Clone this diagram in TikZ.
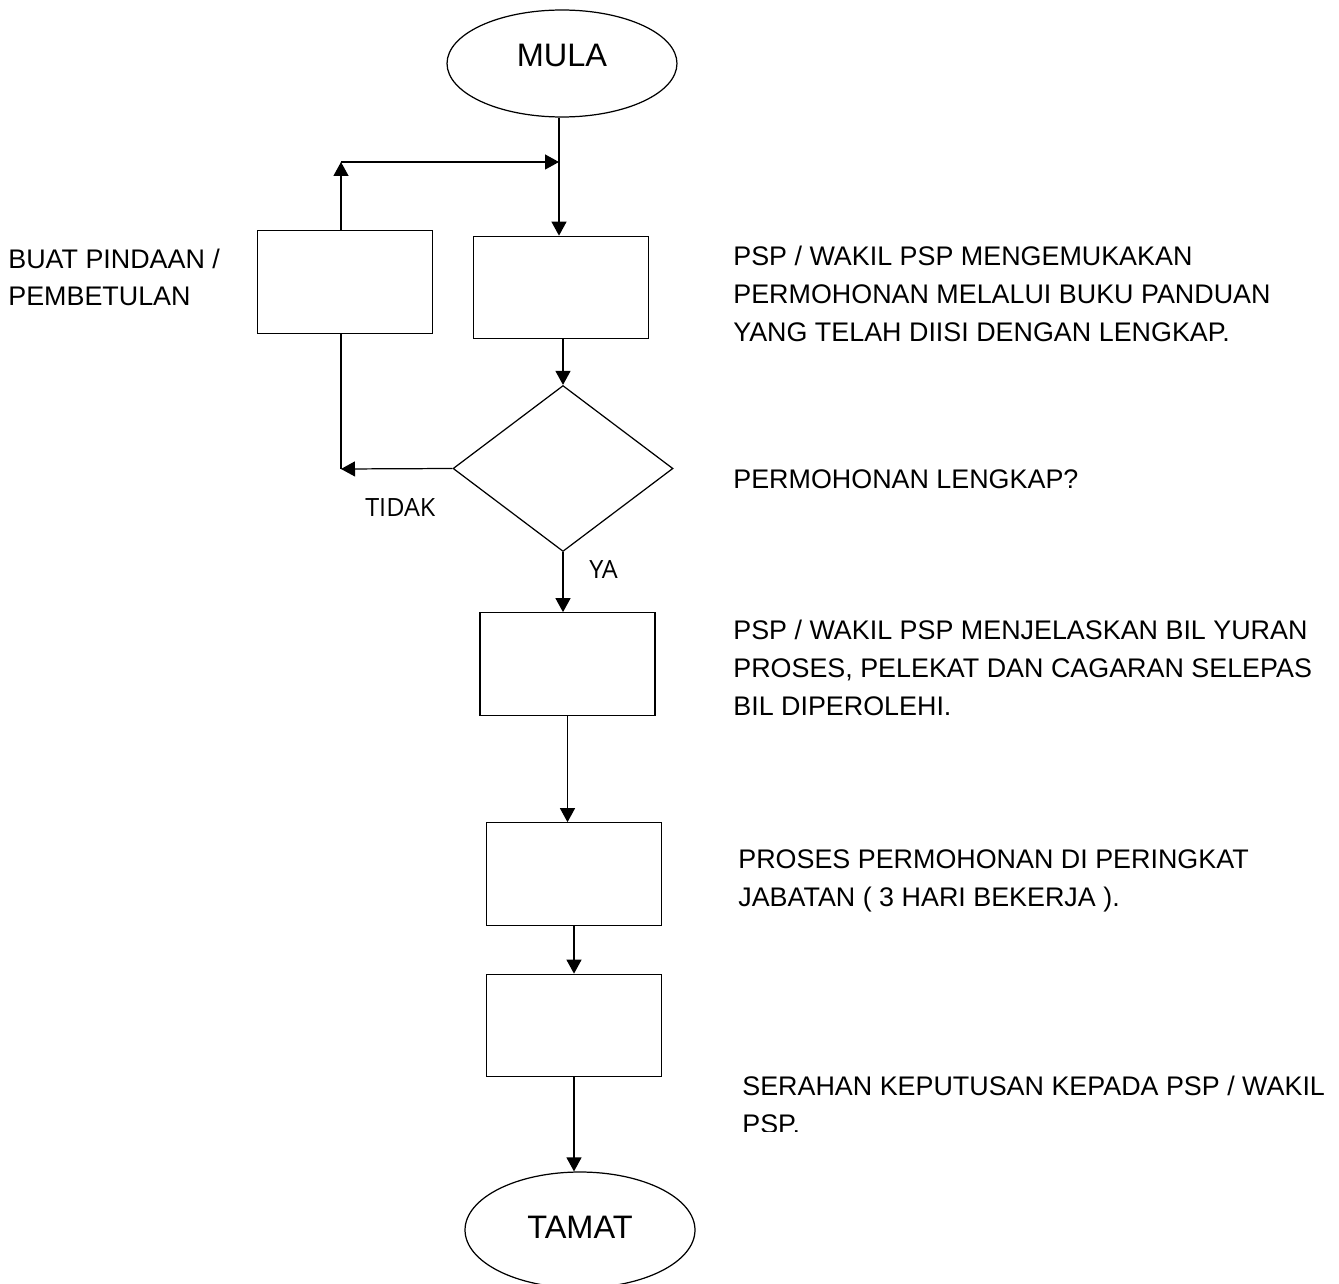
\documentclass[tikz,border=0pt]{standalone}
\usepackage{fontspec}
\setmainfont{Liberation Sans}
\newfontfamily\labelfont{Open Sans}
\usetikzlibrary{positioning,arrows.meta,shapes.geometric}
\tikzset{
  flow/.style={line width=0.7pt},
  arr/.style={flow,-{Triangle[length=0.28cm,width=0.3cm]}},
  procbox/.style={draw,flow,rectangle,minimum width=3.5cm,minimum height=2.05cm,inner sep=0pt},
  decbox/.style={draw,flow,diamond,minimum width=4.4cm,minimum height=3.32cm,inner sep=0pt},
  termbox/.style={draw,flow,ellipse,minimum width=4.6cm,inner sep=0pt},
  termtext/.style={font=\fontsize{18.5}{22}\selectfont},
  note/.style={font=\fontsize{15.3}{21.5}\selectfont,align=left,anchor=base west,inner sep=0pt},
  yesno/.style={font=\labelfont\fontsize{14.3}{17}\selectfont,anchor=base west,inner sep=0pt}
}
\begin{document}
\begin{tikzpicture}[x=0.02cm,y=-0.02cm]
\useasboundingbox (0,0) rectangle (1339,1284);
\coordinate (join) at (559,162);
\coordinate (turn) at (341,162);
\coordinate (back) at (341,469);

\node[termbox,minimum height=2.14cm,label={[termtext,yshift=0.17cm]center:MULA}] (mula) at (562,63.5) {};
\node[procbox] (fix) at (345,282) {};
\node[procbox] (apply) at (561,287.5) {};
\node[decbox] (check) at (563,468.5) {};
\node[procbox] (explain) at (567.5,664) {};
\node[procbox] (process) at (574,874) {};
\node[procbox] (deliver) at (574,1025.5) {};
\node[termbox,minimum height=2.32cm,label={[termtext,yshift=0.06cm]center:TAMAT}] (tamat) at (580,1230) {};

\draw[arr] (mula.south -| join) -- (apply.north -| join);
\draw[arr] (turn) -- (join);
\draw[arr] (fix.north -| turn) -- (turn);
\draw[flow] (fix.south -| back) -- (back);
\draw[arr] (check.west) -- (back);
\draw[arr] (apply.south -| check.north) -- (check.north);
\draw[arr] (check.south) -- (check.south |- explain.north);
\draw[arr] (explain.south) -- (explain.south |- process.north);
\draw[arr] (process.south) -- (process.south |- deliver.north);
\draw[arr] (deliver.south) -- (deliver.south |- tamat.north);

\node[yesno] (no) at (365,516) {TIDAK};
\node[yesno] (yes) at (589,578) {YA};

% multi-line notes sit on the baseline of their last line
\node[note] (fixtext) at (8,306) {BUAT PINDAAN /\\PEMBETULAN};
\node[note] (applytext) at (733,341) {PSP / WAKIL PSP MENGEMUKAKAN\\PERMOHONAN MELALUI BUKU PANDUAN\\YANG TELAH DIISI DENGAN LENGKAP.};
\node[note] (checktext) at (733,488) {PERMOHONAN LENGKAP?};
\node[note] (explaintext) at (733,715) {PSP / WAKIL PSP MENJELASKAN BIL YURAN\\PROSES, PELEKAT DAN CAGARAN SELEPAS\\BIL DIPEROLEHI.};
\node[note] (processtext) at (738,906) {PROSES PERMOHONAN DI PERINGKAT\\JABATAN ( 3 HARI BEKERJA ).};
\begin{scope}
\clip (700,950) rectangle (1339,1131);
\node[note] (delivertext) at (742,1133) {SERAHAN KEPUTUSAN KEPADA PSP / WAKIL\\PSP.};
\end{scope}
\end{tikzpicture}
\end{document}
